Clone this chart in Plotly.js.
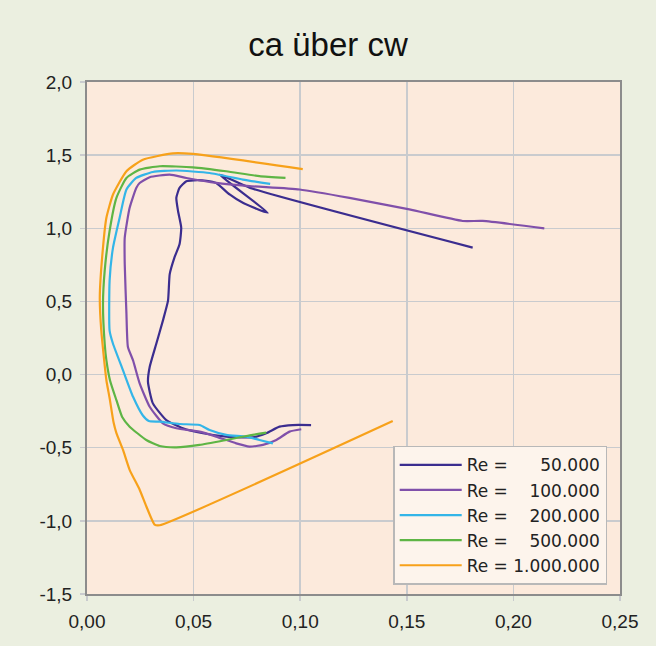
<!DOCTYPE html>
<html>
<head>
<meta charset="utf-8">
<script src="https://cdn.plot.ly/plotly-3.0.1.min.js"></script>
<style>
html,body{margin:0;padding:0;background:#EBEFE0;}
#chart{width:656px;height:646px;}
</style>
</head>
<body>
<div id="chart"></div>
<script>
// Series: cw (x) and ca (y)
const seriesNames = ["Re =\u00A0\u00A0\u00A0\u00A0\u00A0\u00A050.000", "Re =\u00A0\u00A0\u00A0\u00A0100.000", "Re =\u00A0\u00A0\u00A0\u00A0200.000", "Re =\u00A0\u00A0\u00A0\u00A0500.000", "Re = 1.000.000"];
const seriesColors = ["#3B2D8F", "#8050AA", "#33B5E8", "#5EB545", "#F7A11A"];

const cw50k = [0.1051,0.0965,0.0903,0.0841,0.0778,0.0653,0.0544,0.0450,0.0372,0.0309,0.0286,0.0294,0.0325,0.0356,0.0380,0.0388,0.0410,0.0434,0.0442,0.0427,0.0419,0.0434,0.0466,0.0500,0.0560,0.0606,0.0669,0.0731,0.0848,0.0622,0.0765,0.1809];
const ca50k = [-0.345,-0.345,-0.356,-0.401,-0.429,-0.424,-0.401,-0.367,-0.311,-0.197,-0.050,0.052,0.211,0.369,0.505,0.687,0.800,0.891,1.004,1.118,1.208,1.276,1.322,1.328,1.325,1.310,1.231,1.174,1.106,1.367,1.276,0.868];

const cw100k = [0.1005,0.0950,0.0888,0.0825,0.0762,0.0700,0.0606,0.0528,0.0419,0.0356,0.0294,0.0247,0.0216,0.0192,0.0185,0.0177,0.0177,0.0200,0.0231,0.0247,0.0294,0.0388,0.0466,0.0606,0.0762,0.0997,0.1231,0.1512,0.1762,0.1856,0.2145];
const ca100k = [-0.374,-0.390,-0.447,-0.481,-0.492,-0.470,-0.424,-0.390,-0.367,-0.333,-0.220,-0.060,0.097,0.188,0.415,0.755,0.936,1.140,1.276,1.310,1.349,1.367,1.344,1.310,1.288,1.265,1.208,1.129,1.050,1.050,1.000];

const cw200k = [0.0872,0.0809,0.0747,0.0653,0.0575,0.0528,0.0434,0.0341,0.0290,0.0262,0.0216,0.0169,0.0122,0.0106,0.0106,0.0122,0.0153,0.0185,0.0231,0.0309,0.0419,0.0575,0.0731,0.0859];
const ca200k = [-0.470,-0.447,-0.424,-0.412,-0.379,-0.345,-0.338,-0.322,-0.318,-0.280,-0.152,0.029,0.211,0.301,0.641,0.868,1.072,1.265,1.344,1.385,1.395,1.378,1.333,1.303];

const cw500k = [0.0841,0.0747,0.0653,0.0528,0.0419,0.0341,0.0278,0.0200,0.0165,0.0138,0.0108,0.0091,0.0083,0.0075,0.0083,0.0106,0.0138,0.0185,0.0247,0.0341,0.0497,0.0653,0.0809,0.0931];
const ca500k = [-0.397,-0.420,-0.447,-0.481,-0.497,-0.488,-0.447,-0.356,-0.290,-0.175,-0.040,0.097,0.211,0.483,0.710,0.982,1.208,1.344,1.401,1.424,1.417,1.390,1.356,1.344];

const cw1m = [0.1434,0.0341,0.0317,0.0278,0.0247,0.0200,0.0169,0.0138,0.0125,0.0106,0.0091,0.0067,0.0060,0.0075,0.0091,0.0122,0.0185,0.0262,0.0403,0.0497,0.1012];
const ca1m = [-0.318,-1.030,-1.025,-0.900,-0.787,-0.651,-0.515,-0.400,-0.330,-0.160,-0.039,0.301,0.528,0.868,1.072,1.231,1.390,1.469,1.512,1.508,1.405];

const xTickVals = [0, 0.05, 0.10, 0.15, 0.20, 0.25];
const xTickText = ["0,00", "0,05", "0,10", "0,15", "0,20", "0,25"];
const yTickVals = [-1.5, -1.0, -0.5, 0.0, 0.5, 1.0, 1.5, 2.0];
const yTickText = ["-1,5", "-1,0", "-0,5", "0,0", "0,5", "1,0", "1,5", "2,0"];

const xs = [cw50k, cw100k, cw200k, cw500k, cw1m];
const ys = [ca50k, ca100k, ca200k, ca500k, ca1m];

const traces = xs.map((x, i) => ({
  type: "scatter",
  mode: "lines",
  x: x,
  y: ys[i],
  name: seriesNames[i],
  line: {color: seriesColors[i], width: 2.2, shape: "spline", smoothing: 0.5}
}));

const axisFont = {family: "Liberation Sans, Arial, sans-serif", size: 19, color: "#222222"};

const layout = {
  width: 656,
  height: 646,
  margin: {l: 87, r: 36, t: 82, b: 52, pad: 0},
  paper_bgcolor: "#EBEFE0",
  plot_bgcolor: "#FCEADC",
  title: {
    text: "ca über cw",
    font: {family: "Liberation Sans, Arial, sans-serif", size: 33, color: "#111111"},
    x: 0.5, xref: "container", xanchor: "center",
    y: 1 - 44.5 / 646, yref: "container", yanchor: "middle"
  },
  xaxis: {
    range: [0, 0.25],
    tickvals: xTickVals,
    ticktext: xTickText,
    showgrid: true,
    gridcolor: "#C9CBCE",
    gridwidth: 1.5,
    zeroline: false,
    showline: true,
    mirror: true,
    linecolor: "#8C8C8C",
    linewidth: 2,
    ticks: "outside",
    ticklen: 5,
    tickcolor: "#C9CBCE",
    tickwidth: 1.5,
    ticklabelstandoff: 4,
    tickfont: axisFont,
    fixedrange: true
  },
  yaxis: {
    range: [-1.5, 2.0],
    tickvals: yTickVals,
    ticktext: yTickText,
    showgrid: true,
    gridcolor: "#C9CBCE",
    gridwidth: 1.5,
    zeroline: false,
    showline: true,
    mirror: true,
    linecolor: "#8C8C8C",
    linewidth: 2,
    ticks: "outside",
    ticklen: 5,
    tickcolor: "#C9CBCE",
    tickwidth: 1.5,
    ticklabelstandoff: 4,
    tickfont: axisFont,
    fixedrange: true
  },
  showlegend: true,
  legend: {
    x: 0.976, xanchor: "right",
    y: 0.018, yanchor: "bottom",
    bgcolor: "#FDF4EC",
    bordercolor: "#B8B8B8",
    borderwidth: 1.5,
    font: {family: "DejaVu Sans, sans-serif", size: 17, color: "#222222"},
    itemwidth: 62,
    tracegroupgap: 0
  }
};

Plotly.newPlot("chart", traces, layout, {displayModeBar: false, staticPlot: true});
</script>
</body>
</html>
